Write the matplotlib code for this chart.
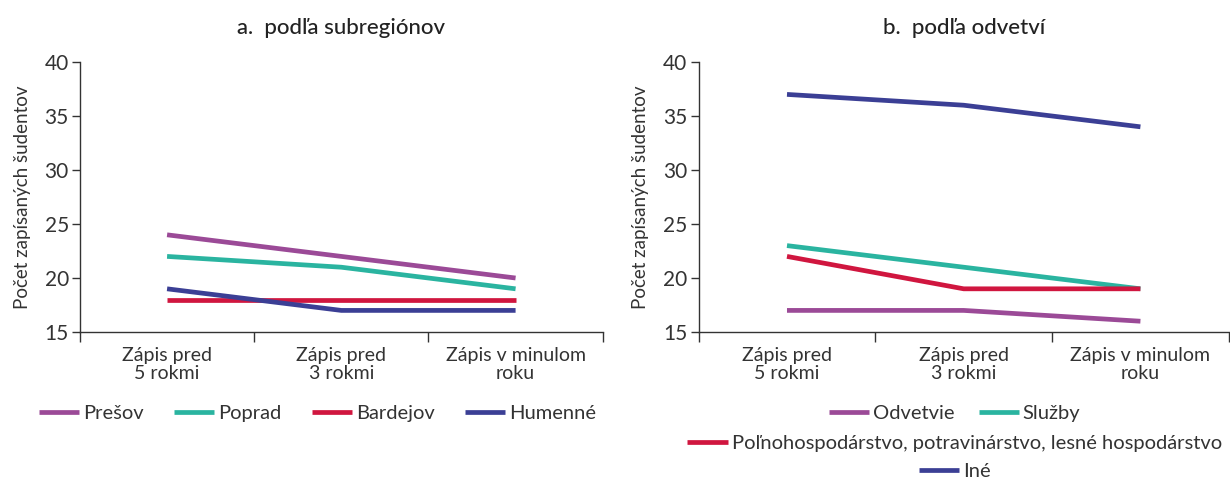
import matplotlib
matplotlib.use("Agg")
import matplotlib.pyplot as plt

plt.rcParams['font.family'] = ['Lato', 'DejaVu Sans']

categories = ["Zápis pred\n5 rokmi", "Zápis pred\n3 rokmi", "Zápis v minulom\nroku"]

# Panel a
a_names = ["Prešov", "Poprad", "Bardejov", "Humenné"]
presov = [24, 22, 20]
poprad = [22, 21, 19]
bardejov = [18, 18, 18]
humenne = [19, 17, 17]

# Panel b
b_names = ["Odvetvie", "Služby", "Poľnohospodárstvo, potravinárstvo, lesné hospodárstvo", "Iné"]
odvetvie = [17, 17, 16]
sluzby = [23, 21, 19]
polno = [22, 19, 19]
ine = [37, 36, 34]

colors = ["#9B4A97", "#2AB4A0", "#D0163F", "#3B3F95"]
text_col = "#333333"

fig = plt.figure(figsize=(12.3, 4.8), dpi=100)
axA = fig.add_axes([0.065, 0.3083, 0.425, 0.5625])
axB = fig.add_axes([0.568, 0.3083, 0.431, 0.5625])

x = list(range(len(categories)))

def style(ax, title):
    ax.set_xlim(-0.5, 2.5)
    ax.set_ylim(15, 40)
    ax.set_yticks([15, 20, 25, 30, 35, 40])
    ax.set_xticks(x)
    ax.set_xticklabels(categories, fontsize=14, color=text_col, linespacing=1.05)
    ax.set_xticks([-0.5, 0.5, 1.5, 2.5], minor=True)
    ax.tick_params(axis='x', which='major', length=0, pad=11)
    ax.tick_params(axis='x', which='minor', length=7, width=1, color="#333333", direction='out')
    ax.tick_params(axis='y', length=6, width=1, color="#333333", labelsize=15, labelcolor=text_col, pad=2)
    for s in ["top", "right"]:
        ax.spines[s].set_visible(False)
    for s in ["left", "bottom"]:
        ax.spines[s].set_color("#333333")
        ax.spines[s].set_linewidth(1)
    ax.set_ylabel("Počet zapísaných šudentov", fontsize=13.5, color=text_col, labelpad=10)
    ax.set_title(title, fontsize=16, color="#222222", pad=20, fontweight='medium')

for vals, c, n in zip([presov, poprad, bardejov, humenne], colors, a_names):
    axA.plot(x, vals, color=c, lw=3.4, label=n, solid_capstyle='butt')
for vals, c, n in zip([odvetvie, sluzby, polno, ine], colors, b_names):
    axB.plot(x, vals, color=c, lw=3.4, label=n, solid_capstyle='butt')

style(axA, "a.  podľa subregiónov")
style(axB, "b.  podľa odvetví")

lkw = dict(frameon=False, fontsize=14.5, handlelength=2.0, handletextpad=0.2,
           labelcolor=text_col, borderaxespad=0)

h, l = axA.get_legend_handles_labels()
fig.legend(h, l, ncol=4, loc='center', bbox_to_anchor=(0.258, 0.139),
           columnspacing=1.5, **lkw)

h, l = axB.get_legend_handles_labels()
fig.legend(h[:2], l[:2], ncol=2, loc='center', bbox_to_anchor=(0.776, 0.139),
           columnspacing=1.2, **lkw)
fig.legend(h[2:3], l[2:3], ncol=1, loc='center', bbox_to_anchor=(0.776, 0.077), **lkw)
fig.legend(h[3:4], l[3:4], ncol=1, loc='center', bbox_to_anchor=(0.776, 0.018), **lkw)

fig.savefig("out.png", dpi=100, facecolor="white")
